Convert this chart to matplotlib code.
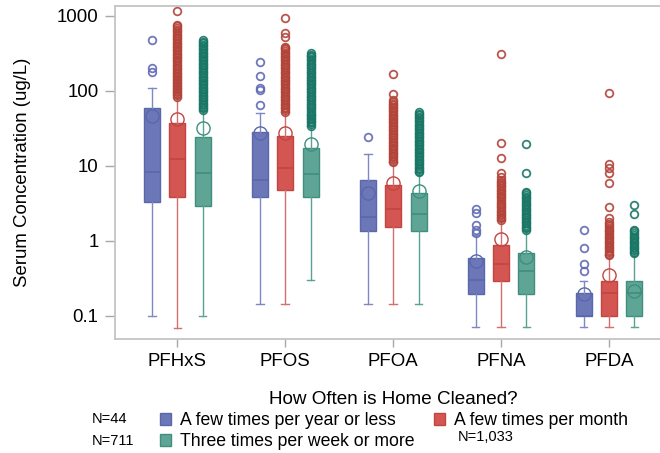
import numpy as np
import matplotlib
matplotlib.use("Agg")
import matplotlib.pyplot as plt
from matplotlib.patches import Patch

plt.rcParams['font.family'] = ['Liberation Sans', 'DejaVu Sans']

chemicals = ['PFHxS', 'PFOS', 'PFOA', 'PFNA', 'PFDA']
groups = ['A few times per year or less', 'A few times per month',
          'Three times per week or more']
group_n = ['N=44', 'N=1,033', 'N=711']

# box statistics, one value per chemical (ug/L)
year_q1 = [3.3, 3.9, 1.37, 0.196, 0.1]
year_med = [8.2, 6.6, 2.09, 0.30, 0.1]
year_q3 = [60, 28.7, 6.6, 0.6, 0.2]
year_lo = [0.1, 0.143, 0.143, 0.072, 0.072]
year_hi = [111, 51.4, 14.3, 1.2, 0.296]
year_mean = [47, 27.8, 4.3, 0.54, 0.195]

month_q1 = [3.83, 4.8, 1.52, 0.296, 0.1]
month_med = [12.4, 9.3, 2.64, 0.5, 0.2]
month_q3 = [37.8, 25, 5.6, 0.88, 0.296]
month_lo = [0.07, 0.143, 0.143, 0.072, 0.072]
month_hi = [84, 53, 11.2, 1.9, 0.65]
month_mean = [42, 27.3, 6.0, 1.06, 0.35]

week_q1 = [2.9, 3.9, 1.37, 0.196, 0.1]
week_med = [8.07, 7.8, 2.27, 0.40, 0.2]
week_q3 = [24.6, 17.2, 4.3, 0.70, 0.296]
week_lo = [0.1, 0.30, 0.143, 0.072, 0.072]
week_hi = [55.8, 34, 8.2, 1.4, 0.69]
week_mean = [31.8, 19.7, 4.7, 0.62, 0.216]

# outliers
year_fliers = [
    [478, 200, 181],
    [246, 160, 108, 102, 65],
    [24.1],
    [2.64, 2.39, 1.62, 1.40, 1.29],
    [1.40, 0.80, 0.50, 0.40],
]
month_fliers = [
    [1180, 760, 725, 690, 654, 623, 593, 565, 538, 512, 488, 465, 443, 422,
     402, 383, 365, 348, 332, 316, 301, 287, 273, 260, 248, 236, 225, 214,
     204, 194, 185, 176, 168, 160, 152, 145, 138, 132, 126, 120, 115, 110,
     105, 100, 96, 92, 88, 84],
    [931, 587, 526, 390, 375, 358, 341, 325, 310, 295, 281, 268, 255, 243,
     231, 220, 210, 200, 190, 181, 172, 164, 156, 149, 142, 135, 129, 123,
     117, 111, 106, 101, 96, 91, 87, 83, 79, 75, 71, 68, 65, 62, 59, 56, 53],
    [168, 91, 76, 72, 68, 65, 62, 59, 56, 53.5, 51, 48.5, 46, 44, 42, 40, 38,
     36.2, 34.5, 32.9, 31.3, 29.8, 28.4, 27, 25.7, 24.5, 23.3, 22.2, 21.2,
     20.2, 19.2, 18.3, 17.4, 16.6, 15.8, 15, 14.3, 13.6, 13, 12.4, 11.8, 11.2],
    [311, 20, 12.9, 8.0, 7.2, 6.5, 6.2, 5.9, 5.6, 5.35, 5.1, 4.85, 4.6, 4.4,
     4.2, 4.0, 3.8, 3.6, 3.4, 3.25, 3.1, 2.95, 2.8, 2.65, 2.5, 2.4, 2.3, 2.2,
     2.1, 2.0, 1.9],
    [95, 10.6, 9.3, 8.0, 5.9, 2.87, 2.0, 1.8, 1.7, 1.6, 1.5, 1.42, 1.34,
     1.27, 1.2, 1.14, 1.08, 1.03, 0.98, 0.93, 0.88, 0.84, 0.8, 0.76, 0.72,
     0.68, 0.65],
]
week_fliers = [
    [478, 455, 436, 415, 395, 376, 358, 341, 325, 310, 295, 281, 268, 255,
     243, 231, 220, 210, 200, 190, 181, 172, 164, 156, 149, 142, 135, 129,
     123, 117, 111, 106, 101, 96, 91, 87, 83, 79, 75, 71, 68, 65, 62, 59, 56],
    [318, 305, 295, 281, 268, 255, 243, 231, 220, 210, 200, 190, 181, 172,
     164, 156, 149, 142, 135, 129, 123, 117, 111, 106, 101, 96, 91, 87, 83,
     79, 75, 71, 68, 65, 62, 59, 56, 53, 50, 48, 46, 44, 42, 40, 38, 36, 34],
    [53, 50, 47.6, 45.4, 43.2, 41.1, 39.2, 37.3, 35.5, 33.8, 32.2, 30.7,
     29.2, 27.8, 26.5, 25.2, 24, 22.9, 21.8, 20.8, 19.8, 18.9, 18, 17.1,
     16.3, 15.5, 14.8, 14.1, 13.4, 12.8, 12.2, 11.6, 11, 10.5, 10, 9.5, 9.0,
     8.6, 8.2],
    [19.7, 8.07, 4.5, 4.3, 4.1, 3.9, 3.7, 3.5, 3.3, 3.15, 3.0, 2.85, 2.7,
     2.55, 2.4, 2.3, 2.2, 2.1, 2.0, 1.9, 1.8, 1.71, 1.63, 1.55, 1.47, 1.4],
    [3.02, 2.29, 1.40, 1.34, 1.27, 1.2, 1.14, 1.08, 1.03, 0.98, 0.93, 0.88,
     0.84, 0.8, 0.76, 0.72, 0.69],
]

series = [
    (year_q1, year_med, year_q3, year_lo, year_hi, year_mean, year_fliers),
    (month_q1, month_med, month_q3, month_lo, month_hi, month_mean, month_fliers),
    (week_q1, week_med, week_q3, week_lo, week_hi, week_mean, week_fliers),
]

fills = ['#6b77b7', '#d35652', '#5fa596']
edges = ['#5b67ab', '#c24542', '#3f8e7e']
whisk = ['#7f88c4', '#d4706c', '#5aa292']
flier_cols = ['#5f6ab4', '#b3443a', '#1a7766']
offsets = [-0.235, 0.0, 0.235]

fig = plt.figure(figsize=(6.6, 4.53), dpi=100)
ax = fig.add_axes([115 / 660, 114 / 453, 545 / 660, 333 / 453])
ax.set_yscale('log')

x = np.arange(len(chemicals))
for k, (q1, med, q3, lo, hi, mean, fl) in enumerate(series):
    stats = []
    for i in range(len(chemicals)):
        stats.append(dict(q1=q1[i], med=med[i], q3=q3[i], whislo=lo[i],
                          whishi=hi[i], mean=mean[i], fliers=fl[i]))
    ax.bxp(stats, positions=x + offsets[k], widths=0.148, capwidths=0.07,
           patch_artist=True, showmeans=True, showfliers=True,
           boxprops=dict(facecolor=fills[k], edgecolor=edges[k], linewidth=1),
           medianprops=dict(color=edges[k], linewidth=1.2),
           whiskerprops=dict(color=whisk[k], linewidth=1),
           capprops=dict(color=whisk[k], linewidth=1),
           meanprops=dict(marker='o', markersize=9.5, markerfacecolor='none',
                          markeredgecolor=edges[k], markeredgewidth=1),
           flierprops=dict(marker='o', markersize=5.5, markerfacecolor='none',
                           markeredgecolor=flier_cols[k], markeredgewidth=1.3,
                           alpha=0.9))

ax.set_xlim(-0.578, 4.473)
ax.set_ylim(0.0493, 1359)
ax.set_xticks(x)
ax.set_xticklabels(chemicals)
ax.set_yticks([0.1, 1, 10, 100, 1000])
ax.set_yticklabels(['0.1', '1', '10', '100', '1000'])
ax.yaxis.set_minor_locator(matplotlib.ticker.NullLocator())
ax.tick_params(axis='y', length=7, width=1, color='#a8a8a8', pad=4.8,
               labelsize=13.4)
ax.tick_params(axis='x', length=5.8, width=1, color='#a8a8a8', pad=4,
               labelsize=13.4)
for s in ['left', 'top', 'bottom']:
    ax.spines[s].set_color('#c4c4c4')
    ax.spines[s].set_linewidth(1.3)
ax.spines['right'].set_visible(False)

fig.text(23 / 660, 1 - 172.5 / 453, 'Serum Concentration (ug/L)',
         rotation=90, ha='center', va='center', fontsize=13.4)

fig.text(393 / 660, 1 - 399 / 453, 'How Often is Home Cleaned?',
         ha='center', va='center', fontsize=13.6)

handles = [Patch(facecolor=fills[0], edgecolor=edges[0]),
           Patch(facecolor=fills[2], edgecolor=edges[2]),
           Patch(facecolor=fills[1], edgecolor=edges[1])]
labels = [groups[0], groups[2], groups[1]]
fig.legend(handles, labels, ncol=2, loc='upper left',
           bbox_to_anchor=(160 / 660, 1 - 412 / 453), frameon=False,
           borderpad=0, borderaxespad=0, fontsize=12.7, handlelength=0.63,
           handleheight=0.63, handletextpad=0.5, columnspacing=1.1,
           labelspacing=0.25)

fig.text(92 / 660, 1 - 419 / 453, group_n[0], ha='left', va='center',
         fontsize=10.5)
fig.text(92 / 660, 1 - 441 / 453, group_n[2], ha='left', va='center',
         fontsize=10.5)
fig.text(458 / 660, 1 - 437 / 453, group_n[1], ha='left', va='center',
         fontsize=10.5)

fig.savefig('out.png', dpi=100)
